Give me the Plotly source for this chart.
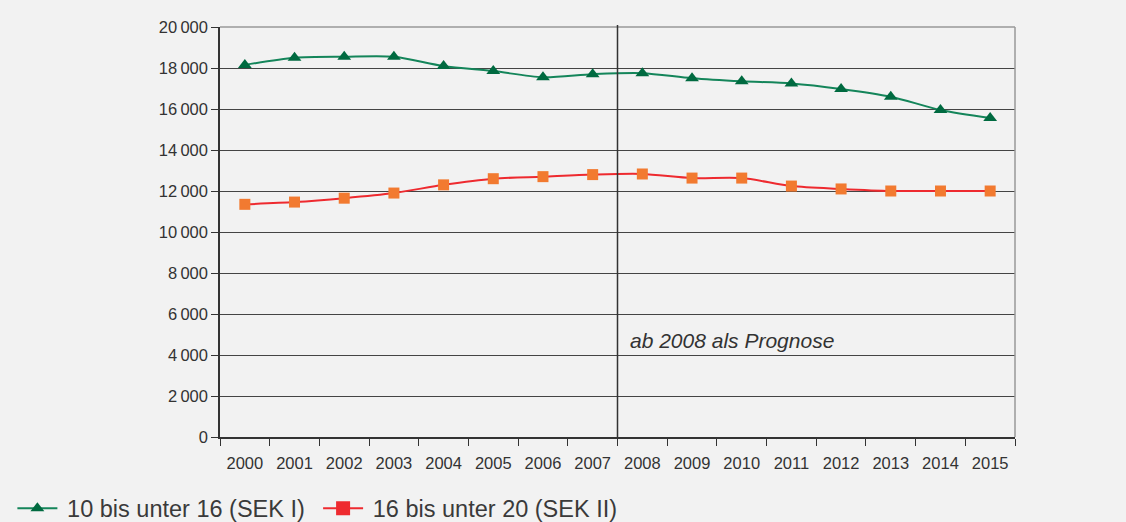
import plotly.graph_objects as go

years = [str(y) for y in range(2000, 2016)]
sek1 = [18150, 18500, 18550, 18550, 18100, 17850, 17550, 17700, 17750, 17500, 17350, 17250, 16980, 16600, 15950, 15560]
sek2 = [11350, 11460, 11650, 11900, 12300, 12600, 12700, 12800, 12830, 12630, 12630, 12240, 12100, 12000, 12000, 12000]
y_ticks = list(range(0, 20001, 2000))
y_labels = ["0"] + [f"{v // 1000}\u2009000" for v in y_ticks[1:]]

name1 = "10 bis unter 16 (SEK I)"
name2 = "16 bis unter 20 (SEK II)"

BG = "#f2f2f2"
GREEN_LINE = "#14855a"
GREEN_MARK = "#006a40"
RED = "#ee2a2f"
ORANGE = "#f27a30"
FONT = "Liberation Sans, Arial, sans-serif"

fig = go.Figure()
fig.add_trace(go.Scatter(
    x=years, y=sek1, name="\u2009" + name1, mode="lines+markers", legend="legend",
    line=dict(color=GREEN_LINE, width=2, shape="spline", smoothing=0.8),
    marker=dict(symbol="triangle-up", size=12, color=GREEN_MARK),
))
fig.add_trace(go.Scatter(
    x=years, y=sek2, name=name2, mode="lines+markers", showlegend=False,
    line=dict(color=RED, width=2, shape="spline", smoothing=0.8),
    marker=dict(symbol="square", size=11, color=ORANGE),
))
# legend entry for the second series (red line, red square)
fig.add_trace(go.Scatter(
    x=[None], y=[None], name="\u2009" + name2, mode="lines+markers", legend="legend2",
    line=dict(color=RED, width=2),
    marker=dict(symbol="square", size=14, color=RED),
))

legend_common = dict(
    orientation="h", xref="container", yref="container",
    y=0.026, xanchor="left", yanchor="middle",
    font=dict(size=23.5, color="#3a3a3a"), bgcolor="rgba(0,0,0,0)",
    itemwidth=40, tracegroupgap=0,
)

fig.update_layout(
    width=1126, height=522,
    margin=dict(l=220, r=111, t=27, b=85),
    paper_bgcolor=BG, plot_bgcolor=BG,
    font=dict(family=FONT, color="#333333", size=17),
    showlegend=True,
    legend=dict(x=0.011, **legend_common),
    legend2=dict(x=0.2825, **legend_common),
    xaxis=dict(
        type="category", categoryorder="array", categoryarray=years,
        tickson="boundaries", ticks="outside", ticklen=7, tickcolor="#333333",
        showline=True, linecolor="#333333", linewidth=1.5,
        showgrid=False, zeroline=False, ticklabelstandoff=10,
        tickfont=dict(size=16.5, color="#333333"),
        range=[-0.5, 15.5],
    ),
    yaxis=dict(
        range=[0, 20000], tickvals=y_ticks, ticktext=y_labels,
        ticks="outside", ticklen=7, tickcolor="#333333",
        showline=True, linecolor="#333333", linewidth=1.5,
        showgrid=True, gridcolor="#444444", gridwidth=1.3,
        zeroline=False, tickfont=dict(size=16.5, color="#333333"),
    ),
    shapes=[
        dict(type="line", xref="paper", yref="paper", x0=0, x1=1, y0=1, y1=1,
             line=dict(color="#999999", width=1.5)),
        dict(type="line", xref="paper", yref="paper", x0=1, x1=1, y0=0, y1=1,
             line=dict(color="#999999", width=1.5)),
        dict(type="line", xref="x", yref="paper", x0=7.5, x1=7.5, y0=0, y1=1.005,
             line=dict(color="#333333", width=1.5)),
    ],
    annotations=[
        dict(text="<i>ab 2008 als Prognose</i>", xref="x", yref="y",
             x=7.5, y=4700, xanchor="left", yanchor="middle", xshift=10,
             showarrow=False, font=dict(size=21, color="#333333", family=FONT)),
    ],
)

fig.write_html(
    "out.html",
    config={"displayModeBar": False},
    post_script="document.body.style.margin='0';document.body.style.background='#f2f2f2';document.body.style.overflow='hidden';",
)
